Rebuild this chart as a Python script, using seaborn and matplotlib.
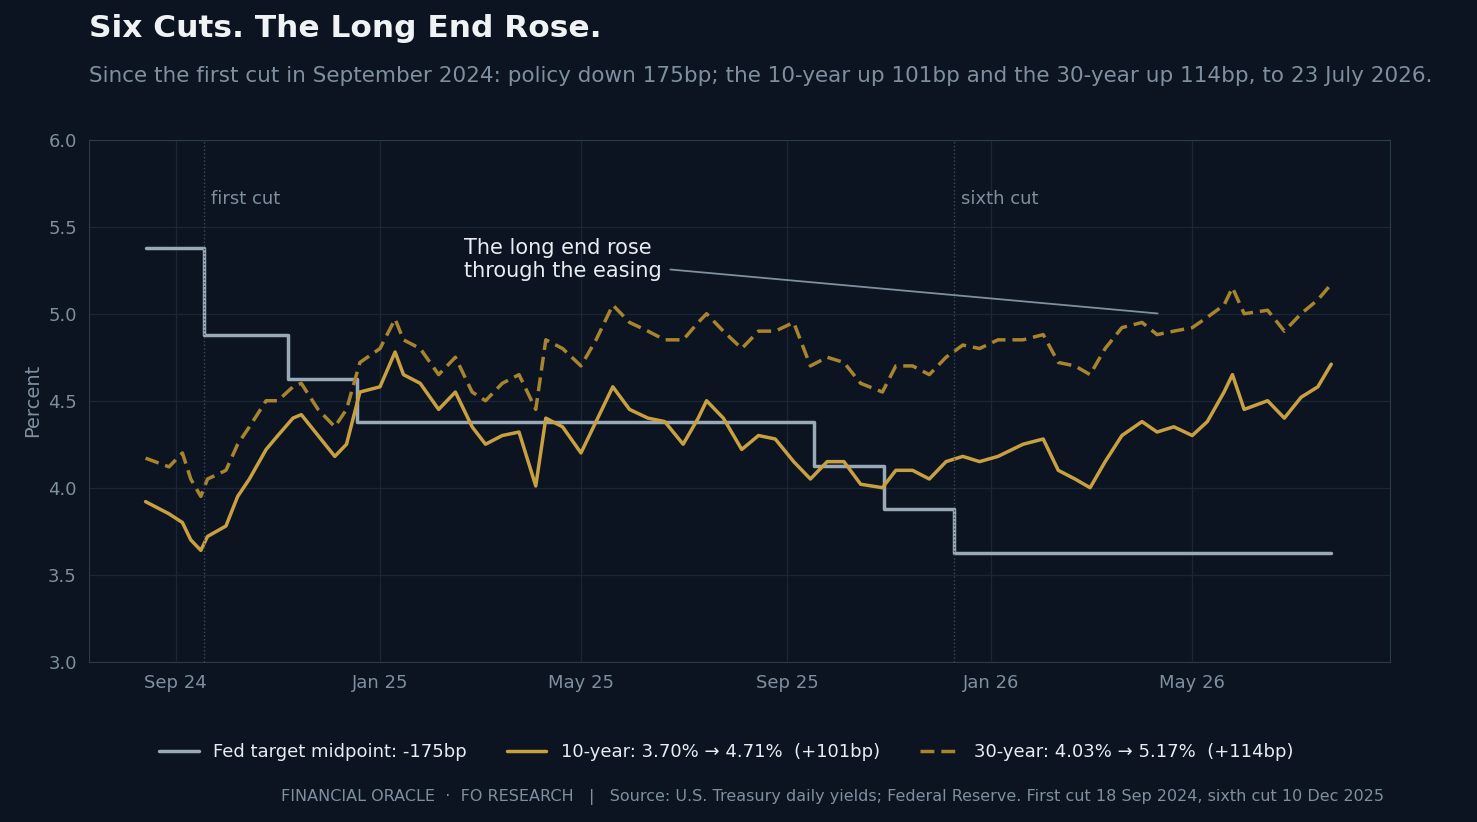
import numpy as np
import pandas as pd
import matplotlib.pyplot as plt
import matplotlib.dates as mdates
import seaborn as sns

# semi-monthly readings
dates = ["2024-08-14", "2024-08-28", "2024-09-05", "2024-09-10", "2024-09-16", "2024-09-20",
         "2024-10-01", "2024-10-08", "2024-10-15", "2024-10-25", "2024-11-01", "2024-11-10",
         "2024-11-15", "2024-11-25", "2024-12-05", "2024-12-12", "2024-12-20", "2025-01-01",
         "2025-01-10", "2025-01-15", "2025-01-25", "2025-02-05", "2025-02-15", "2025-02-25",
         "2025-03-05", "2025-03-15", "2025-03-25", "2025-04-04", "2025-04-10", "2025-04-20",
         "2025-05-01", "2025-05-10", "2025-05-20", "2025-05-30", "2025-06-10", "2025-06-20",
         "2025-07-01", "2025-07-10", "2025-07-15", "2025-07-25", "2025-08-05", "2025-08-15",
         "2025-08-25", "2025-09-05", "2025-09-15", "2025-09-25", "2025-10-05", "2025-10-15",
         "2025-10-28", "2025-11-05", "2025-11-15", "2025-11-25", "2025-12-05", "2025-12-15",
         "2025-12-25", "2026-01-05", "2026-01-20", "2026-02-01", "2026-02-10", "2026-02-20",
         "2026-03-01", "2026-03-10", "2026-03-20", "2026-04-01", "2026-04-10", "2026-04-20",
         "2026-05-01", "2026-05-10", "2026-05-20", "2026-05-25", "2026-06-01", "2026-06-15",
         "2026-06-25", "2026-07-05", "2026-07-15", "2026-07-23"]
ten_year = [3.92, 3.85, 3.80, 3.70, 3.64, 3.72, 3.78, 3.95, 4.05, 4.22, 4.30, 4.40,
            4.42, 4.30, 4.18, 4.25, 4.55, 4.58, 4.78, 4.65, 4.60, 4.45, 4.55, 4.35,
            4.25, 4.30, 4.32, 4.01, 4.40, 4.35, 4.20, 4.38, 4.58, 4.45, 4.40, 4.38,
            4.25, 4.40, 4.50, 4.40, 4.22, 4.30, 4.28, 4.15, 4.05, 4.15, 4.15, 4.02,
            4.00, 4.10, 4.10, 4.05, 4.15, 4.18, 4.15, 4.18, 4.25, 4.28, 4.10, 4.05,
            4.00, 4.15, 4.30, 4.38, 4.32, 4.35, 4.30, 4.38, 4.55, 4.65, 4.45, 4.50,
            4.40, 4.52, 4.58, 4.71]
thirty_year = [4.17, 4.12, 4.20, 4.05, 3.95, 4.05, 4.10, 4.25, 4.35, 4.50, 4.50, 4.58,
               4.60, 4.45, 4.35, 4.45, 4.72, 4.80, 4.97, 4.85, 4.80, 4.65, 4.75, 4.55,
               4.50, 4.60, 4.65, 4.45, 4.85, 4.80, 4.70, 4.85, 5.05, 4.95, 4.90, 4.85,
               4.85, 4.95, 5.00, 4.90, 4.80, 4.90, 4.90, 4.95, 4.70, 4.75, 4.72, 4.60,
               4.55, 4.70, 4.70, 4.65, 4.75, 4.82, 4.80, 4.85, 4.85, 4.88, 4.72, 4.70,
               4.65, 4.80, 4.92, 4.95, 4.88, 4.90, 4.92, 4.98, 5.05, 5.15, 5.00, 5.02,
               4.90, 5.00, 5.08, 5.17]

fed_dates = ["2024-08-14", "2024-09-18", "2024-11-07", "2024-12-18", "2025-09-17",
             "2025-10-29", "2025-12-10", "2026-07-23"]
fed_mid = [5.375, 4.875, 4.625, 4.375, 4.125, 3.875, 3.625, 3.625]

cut_dates = ["2024-09-18", "2025-12-10"]
cut_labels = ["first cut", "sixth cut"]

BG = "#0b1420"
MUTED = "#7f8fa0"
GOLD = "#c9a040"
GOLD2 = "#a8842e"
FED = "#9aa9b8"

df = pd.DataFrame({"date": pd.to_datetime(dates), "ten": ten_year, "thirty": thirty_year})
fed = pd.DataFrame({"date": pd.to_datetime(fed_dates), "mid": fed_mid})

sns.set_style("dark")
plt.rcParams["font.family"] = ["DejaVu Sans"]
fig = plt.figure(figsize=(14.77, 8.22), dpi=100, facecolor=BG)
ax = fig.add_axes([0.060, 0.195, 0.881, 0.635], facecolor=BG)

ax.step(fed["date"], fed["mid"], where="post", color=FED, lw=2.5,
        label="Fed target midpoint: -175bp")
sns.lineplot(data=df, x="date", y="ten", ax=ax, color=GOLD, lw=2.5,
             label="10-year: 3.70% \u2192 4.71%  (+101bp)")
sns.lineplot(data=df, x="date", y="thirty", ax=ax, color=GOLD2, lw=2.5,
             linestyle=(0, (4, 2)), label="30-year: 4.03% \u2192 5.17%  (+114bp)")

for d, lab in zip(cut_dates, cut_labels):
    d = pd.Timestamp(d)
    ax.axvline(d, color="#3a4a5c", lw=1, ls=":")
    ax.text(d + pd.Timedelta(days=4), 5.66, lab, color=MUTED, fontsize=13, va="center")

ax.annotate("The long end rose\nthrough the easing", xy=(pd.Timestamp("2026-04-12"), 5.0),
            xytext=(pd.Timestamp("2025-02-20"), 5.31), color="#e8edf2", fontsize=15,
            va="center", ha="left",
            arrowprops=dict(arrowstyle="-", color=MUTED, lw=1.3, shrinkA=4))

ax.set_ylim(3.0, 6.0)
ax.set_xlim(pd.Timestamp("2024-07-11"), pd.Timestamp("2026-08-27"))
ax.set_yticks(np.arange(3.0, 6.01, 0.5))
ax.xaxis.set_major_locator(mdates.MonthLocator(bymonth=[1, 5, 9]))
ax.xaxis.set_major_formatter(mdates.DateFormatter("%b %y"))
ax.grid(True, color="#1a2636", lw=1)
ax.tick_params(colors=MUTED, labelsize=13, length=5)
for s in ax.spines.values():
    s.set_color("#2a3a4c")
ax.set_xlabel("")
ax.set_ylabel("Percent", color=MUTED, fontsize=14)

leg = ax.legend(loc="upper center", bbox_to_anchor=(0.49, -0.125), ncol=3, frameon=False,
                fontsize=13, labelcolor="#e8edf2", handlelength=2.2, columnspacing=2.2)

fig.text(0.060, 0.965, "Six Cuts. The Long End Rose.", color="#f0f3f6", fontsize=22.5,
         fontweight="bold", va="center")
fig.text(0.060, 0.908, "Since the first cut in September 2024: policy down 175bp; the 10-year up "
         "101bp and the 30-year up 114bp, to 23 July 2026.", color=MUTED, fontsize=15.5, va="center")
fig.text(0.937, 0.030, "FINANCIAL ORACLE  \u00b7  FO RESEARCH   |   Source: U.S. Treasury daily yields; "
         "Federal Reserve. First cut 18 Sep 2024, sixth cut 10 Dec 2025", color=MUTED,
         fontsize=11.5, ha="right", va="center")

fig.savefig("out.png", dpi=100, facecolor=BG)
